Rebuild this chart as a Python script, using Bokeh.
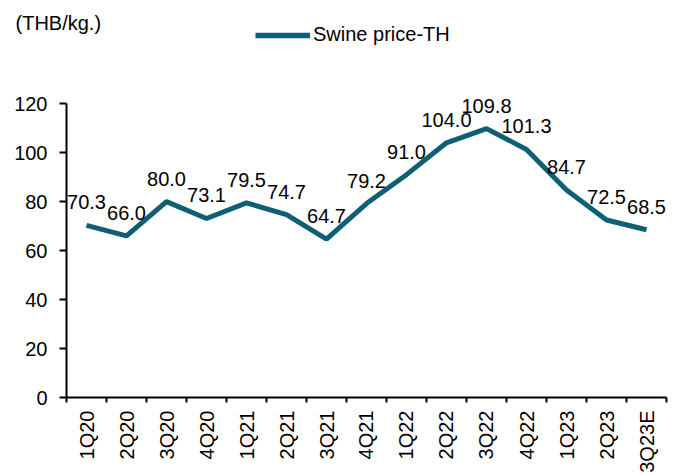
from bokeh.plotting import figure
from bokeh.layouts import column
from bokeh.models import ColumnDataSource, FixedTicker, Range1d, Legend, LegendItem, Label
from bokeh.core.properties import value
from bokeh.embed import file_html
from bokeh.resources import INLINE

quarters = ["1Q20", "2Q20", "3Q20", "4Q20", "1Q21", "2Q21", "3Q21", "4Q21",
            "1Q22", "2Q22", "3Q22", "4Q22", "1Q23", "2Q23", "3Q23E"]
prices = [70.3, 66.0, 80.0, 73.1, 79.5, 74.7, 64.7, 79.2,
          91.0, 104.0, 109.8, 101.3, 84.7, 72.5, 68.5]
y_ticks = [0, 20, 40, 60, 80, 100, 120]
unit_label = "(THB/kg.)"
series_name = "Swine price-TH"

FONT = "Liberation Sans"
COLOR = "#0e5f75"
FS = "20px"

xs = [i + 0.5 for i in range(len(quarters))]
src = ColumnDataSource(dict(x=xs, y=prices, lbl=[f"{v:.1f}" for v in prices]))

# ---- header strip: unit label + legend ----
TOP_H = 50
SHIFT = 66
t = figure(width=685, height=TOP_H, output_backend="svg", toolbar_location=None,
           x_axis_type=None, y_axis_type=None,
           x_range=Range1d(-3, -2), y_range=Range1d(0, 120),
           min_border=0, margin=(0, 0, 0, -SHIFT))
t.outline_line_color = None
t.grid.grid_line_color = None
t.border_fill_color = "white"
t.background_fill_color = "white"
lr = t.line("x", "y", source=src, line_color=COLOR, line_width=5.5)
legend = Legend(items=[LegendItem(label=series_name, renderers=[lr])],
                location=(255, 4), orientation="horizontal",
                label_text_font=FONT, label_text_font_size=FS, label_text_color="black",
                glyph_width=55, glyph_height=20, label_height=20, label_standoff=3,
                border_line_color=None, background_fill_alpha=0, padding=0, margin=0)
t.add_layout(legend, "center")
t.add_layout(Label(x=15, y=28, x_units="screen", y_units="screen", text=unit_label,
                   text_font=FONT, text_font_size=FS, text_color="black",
                   text_baseline="alphabetic"))

# ---- main chart ----
p = figure(width=685, height=425, output_backend="svg", toolbar_location=None,
           x_range=Range1d(0, len(quarters)), y_range=Range1d(0, 141.7),
           min_border_left=66, min_border_right=19, min_border_top=0, min_border_bottom=77)
p.outline_line_color = None
p.grid.grid_line_color = None
p.background_fill_color = "white"
p.border_fill_color = "white"

p.line("x", "y", source=src, line_color=COLOR, line_width=5)
p.text("x", "y", text="lbl", source=src, text_align="center", text_baseline="alphabetic",
       y_offset=-23, text_font=value(FONT), text_font_size=FS, text_color="#000000")

xa = p.xaxis[0]
xa.ticker = FixedTicker(ticks=xs, minor_ticks=list(range(len(quarters) + 1)))
xa.major_label_overrides = {x: q for x, q in zip(xs, quarters)}
xa.major_label_orientation = 1.5707963
xa.major_tick_out = 0
xa.major_tick_in = 0
xa.minor_tick_out = 5
xa.minor_tick_in = 0
xa.minor_tick_line_width = 2
xa.minor_tick_line_color = "black"
xa.axis_line_width = 2
xa.axis_line_color = "black"
xa.major_label_text_font = FONT
xa.major_label_text_font_size = FS
xa.major_label_text_color = "black"
xa.major_label_standoff = 8

ya = p.yaxis[0]
ya.ticker = FixedTicker(ticks=y_ticks)
ya.bounds = (0, 120)
ya.major_tick_out = 7
ya.major_tick_in = 0
ya.minor_tick_out = 0
ya.minor_tick_in = 0
ya.major_tick_line_width = 2
ya.major_tick_line_color = "black"
ya.axis_line_width = 2
ya.axis_line_color = "black"
ya.major_label_text_font = FONT
ya.major_label_text_font_size = FS
ya.major_label_text_color = "black"
ya.major_label_standoff = 12

layout = column(t, p, spacing=0)
open("out.html", "w").write(file_html(layout, INLINE))
